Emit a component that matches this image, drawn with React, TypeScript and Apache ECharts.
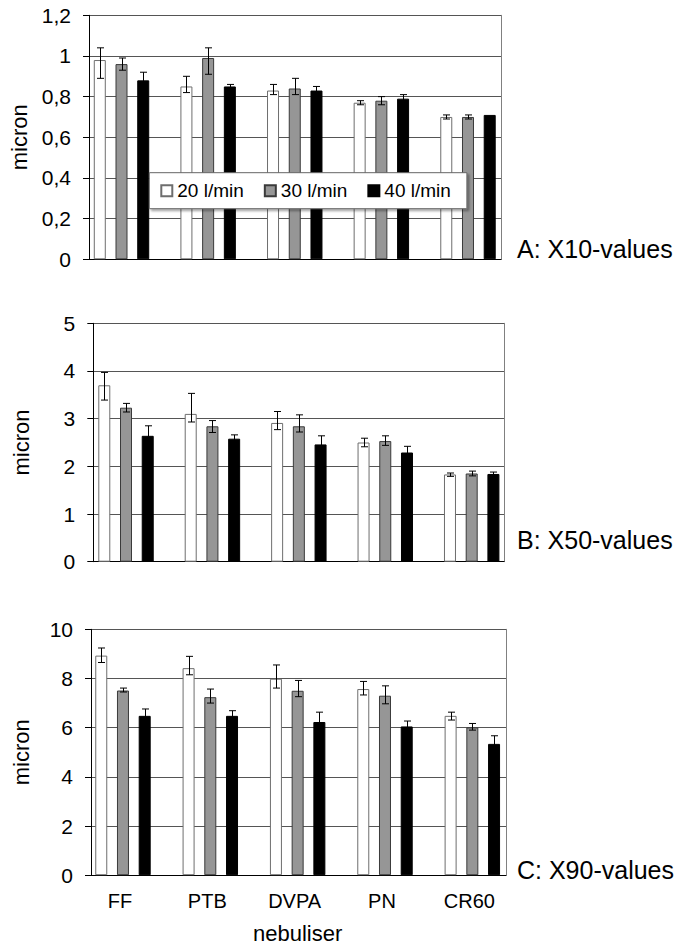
import React, { useEffect, useRef } from "react";
import * as echarts from "echarts";

// ---------- data ----------
const categories = ["FF", "PTB", "DVPA", "PN", "CR60"];
const flowNames = ["20 l/min", "30 l/min", "40 l/min"];

// Panel A: X10-values (micron)
const x10_20 = [0.98, 0.85, 0.83, 0.77, 0.7];
const x10_30 = [0.96, 0.99, 0.84, 0.78, 0.7];
const x10_40 = [0.88, 0.85, 0.83, 0.79, 0.71];
const x10_20_err = [[0.89, 1.04], [0.82, 0.9], [0.81, 0.86], [0.76, 0.78], [0.69, 0.71]];
const x10_30_err = [[0.93, 0.99], [0.91, 1.04], [0.81, 0.89], [0.76, 0.8], [0.69, 0.71]];
const x10_40_err = [[0.84, 0.92], [0.84, 0.86], [0.81, 0.85], [0.77, 0.81], null];

// Panel B: X50-values (micron)
const x50_20 = [3.7, 3.1, 2.91, 2.5, 1.83];
const x50_30 = [3.23, 2.84, 2.84, 2.53, 1.85];
const x50_40 = [2.64, 2.58, 2.46, 2.29, 1.84];
const x50_20_err = [[3.39, 3.97], [2.93, 3.53], [2.77, 3.15], [2.41, 2.59], [1.79, 1.86]];
const x50_30_err = [[3.14, 3.32], [2.71, 2.96], [2.72, 3.08], [2.44, 2.64], [1.8, 1.9]];
const x50_40_err = [[2.43, 2.85], [2.5, 2.66], [2.28, 2.64], [2.16, 2.42], [1.8, 1.88]];

// Panel C: X90-values (micron)
const x90_20 = [8.93, 8.42, 7.99, 7.57, 6.48];
const x90_30 = [7.51, 7.24, 7.5, 7.3, 6.01];
const x90_40 = [6.48, 6.48, 6.23, 6.05, 5.34];
const x90_20_err = [[8.65, 9.24], [8.15, 8.9], [7.61, 8.55], [7.33, 7.88], [6.31, 6.63]];
const x90_30_err = [[7.45, 7.61], [7.0, 7.57], [7.26, 7.92], [6.97, 7.7], [5.9, 6.17]];
const x90_40_err = [[6.2, 6.76], [6.27, 6.69], [5.83, 6.63], [5.83, 6.27], [5.01, 5.67]];

// ---------- styling / layout ----------
const FONT = "'Liberation Sans', Arial, Helvetica, sans-serif";
const BAR_W = 12;
const BAR_GAP = 0.81;
const BAR_PITCH = BAR_W * (1 + BAR_GAP);
const barStyles = [
  { color: "#ffffff", borderColor: "#6e6e6e", borderWidth: 1 },
  { color: "#969696", borderColor: "#3a3a3a", borderWidth: 1 },
  { color: "#000000", borderColor: "#000000", borderWidth: 1 },
];

const panels = [
  {
    values: [x10_20, x10_30, x10_40],
    errs: [x10_20_err, x10_30_err, x10_40_err],
    max: 1.2, interval: 0.2,
    frame: { left: 89, right: 501, top: 15.3, bottom: 259.3 },
    bars: { left: 78.2, right: 511.3 },
    nameGap: 57,
    label: "A: X10-values", labelY: 249,
    showCats: false,
  },
  {
    values: [x50_20, x50_30, x50_40],
    errs: [x50_20_err, x50_30_err, x50_40_err],
    max: 5, interval: 1,
    frame: { left: 93.3, right: 504, top: 323.3, bottom: 561.7 },
    bars: { left: 82.8, right: 514.9 },
    nameGap: 61,
    label: "B: X50-values", labelY: 540,
    showCats: false,
  },
  {
    values: [x90_20, x90_30, x90_40],
    errs: [x90_20_err, x90_30_err, x90_40_err],
    max: 10, interval: 2,
    frame: { left: 91, right: 506, top: 629.3, bottom: 875.2 },
    bars: { left: 79.3, right: 516 },
    nameGap: 59,
    label: "C: X90-values", labelY: 869.5,
    showCats: true,
  },
];

const W = 686;
const H = 947;

function fmt(v: number) {
  const r = Math.round(v * 10) / 10;
  return String(r).replace(".", ",");
}

function buildOption() {
  const grid: any[] = [];
  const xAxis: any[] = [];
  const yAxis: any[] = [];
  const series: any[] = [];
  const graphic: any[] = [];

  panels.forEach((p, pi) => {
    const height = p.frame.bottom - p.frame.top;
    grid.push({
      left: p.frame.left, top: p.frame.top,
      width: p.frame.right - p.frame.left, height,
      outerBoundsMode: "none", containLabel: false,
    });
    grid.push({
      left: p.bars.left, top: p.frame.top,
      width: p.bars.right - p.bars.left, height,
      outerBoundsMode: "none", containLabel: false,
    });
    const gFrame = 2 * pi;
    const gBars = 2 * pi + 1;

    xAxis.push({
      gridIndex: gFrame, type: "value", min: 0, max: 1,
      axisLine: { show: true, onZero: false, lineStyle: { color: "#000", width: 1 } },
      axisTick: { show: false }, axisLabel: { show: false }, splitLine: { show: false },
    });
    xAxis.push({
      gridIndex: gBars, type: "category", data: categories,
      axisLine: { show: false }, axisTick: { show: false },
      axisLabel: {
        show: p.showCats, fontSize: 20, color: "#000", fontFamily: FONT,
        margin: 16, padding: [0, 6, 0, 0],
      },
      splitLine: { show: false },
      name: p.showCats ? "nebuliser" : "",
      nameLocation: "middle", nameGap: 47,
      nameTextStyle: { fontSize: 22, lineHeight: 22, color: "#000", fontFamily: FONT },
    });

    yAxis.push({
      gridIndex: gFrame, type: "value", min: 0, max: p.max, interval: p.interval,
      position: "left",
      axisLine: { show: true, lineStyle: { color: "#000", width: 1 } },
      axisTick: { show: true, length: 6, lineStyle: { color: "#000" } },
      axisLabel: { margin: 18, fontSize: 21, color: "#000", fontFamily: FONT, formatter: fmt },
      splitLine: { show: true, lineStyle: { color: "#555", width: 1 } },
      name: "micron", nameLocation: "middle", nameGap: p.nameGap,
      nameTextStyle: { fontSize: 22, color: "#000", fontFamily: FONT },
    });
    yAxis.push({
      gridIndex: gFrame, type: "value", min: 0, max: p.max, interval: p.interval,
      position: "right",
      axisLine: { show: true, lineStyle: { color: "#808080", width: 1 } },
      axisTick: { show: false }, axisLabel: { show: false }, splitLine: { show: false },
    });
    yAxis.push({
      gridIndex: gBars, type: "value", min: 0, max: p.max, interval: p.interval,
      show: false, splitLine: { show: false },
    });

    const xIdx = 2 * pi + 1;
    const yIdx = 3 * pi + 2;

    p.values.forEach((vals, k) => {
      series.push({
        type: "bar", name: flowNames[k],
        xAxisIndex: xIdx, yAxisIndex: yIdx,
        data: vals,
        barWidth: BAR_W, barGap: Math.round(BAR_GAP * 100) + "%",
        itemStyle: barStyles[k],
        z: 2,
      });
    });

    const errData: any[] = [];
    p.errs.forEach((arr, k) => {
      arr.forEach((e, ci) => {
        if (e) errData.push([ci, e[0], e[1], k]);
      });
    });
    series.push({
      type: "custom", name: "err" + pi,
      xAxisIndex: xIdx, yAxisIndex: yIdx, z: 5,
      data: errData,
      encode: { x: 0, y: [1, 2] },
      renderItem: (params: any, api: any) => {
        const c = api.value(0);
        const lo = api.value(1);
        const hi = api.value(2);
        const k = api.value(3);
        const pLo = api.coord([c, lo]);
        const pHi = api.coord([c, hi]);
        const x = Math.round(pLo[0] + (k - 1) * BAR_PITCH) + 0.5;
        const cap = 3.5;
        const st = { stroke: "#000", lineWidth: 1 };
        return {
          type: "group",
          children: [
            { type: "line", shape: { x1: x, y1: pLo[1], x2: x, y2: pHi[1] }, style: st },
            { type: "line", shape: { x1: x - cap, y1: pHi[1], x2: x + cap, y2: pHi[1] }, style: st },
            { type: "line", shape: { x1: x - cap, y1: pLo[1], x2: x + cap, y2: pLo[1] }, style: st },
          ],
        };
      },
      silent: true,
    });

    graphic.push({
      type: "text", x: 517, y: p.labelY,
      style: {
        text: p.label, fontSize: 25, fontFamily: FONT, fill: "#000",
        align: "left", verticalAlign: "middle",
      },
    });
  });

  return {
    animation: false,
    backgroundColor: "#fff",
    grid, xAxis, yAxis, series, graphic,
    legend: {
      data: flowNames,
      left: 149.3, top: 172.7,
      orient: "horizontal",
      icon: "rect",
      itemWidth: 11, itemHeight: 11, itemGap: 20,
      padding: [8, 16, 8, 11],
      textStyle: { fontSize: 19, color: "#000", fontFamily: FONT, lineHeight: 20 },
      backgroundColor: "#fff",
      borderColor: "#666", borderWidth: 1,
      shadowColor: "rgba(0,0,0,0.35)", shadowBlur: 2, shadowOffsetX: 2, shadowOffsetY: 2,
      selectedMode: false,
    },
  };
}

export default function App() {
  const ref = useRef<HTMLDivElement>(null);
  useEffect(() => {
    if (!ref.current) return;
    const chart = echarts.init(ref.current, undefined, { renderer: "svg", width: W, height: H });
    chart.setOption(buildOption() as any);
    return () => chart.dispose();
  }, []);
  return (
    <div
      ref={ref}
      style={{ position: "fixed", left: 0, top: 0, width: W, height: H, background: "#fff" }}
    />
  );
}
